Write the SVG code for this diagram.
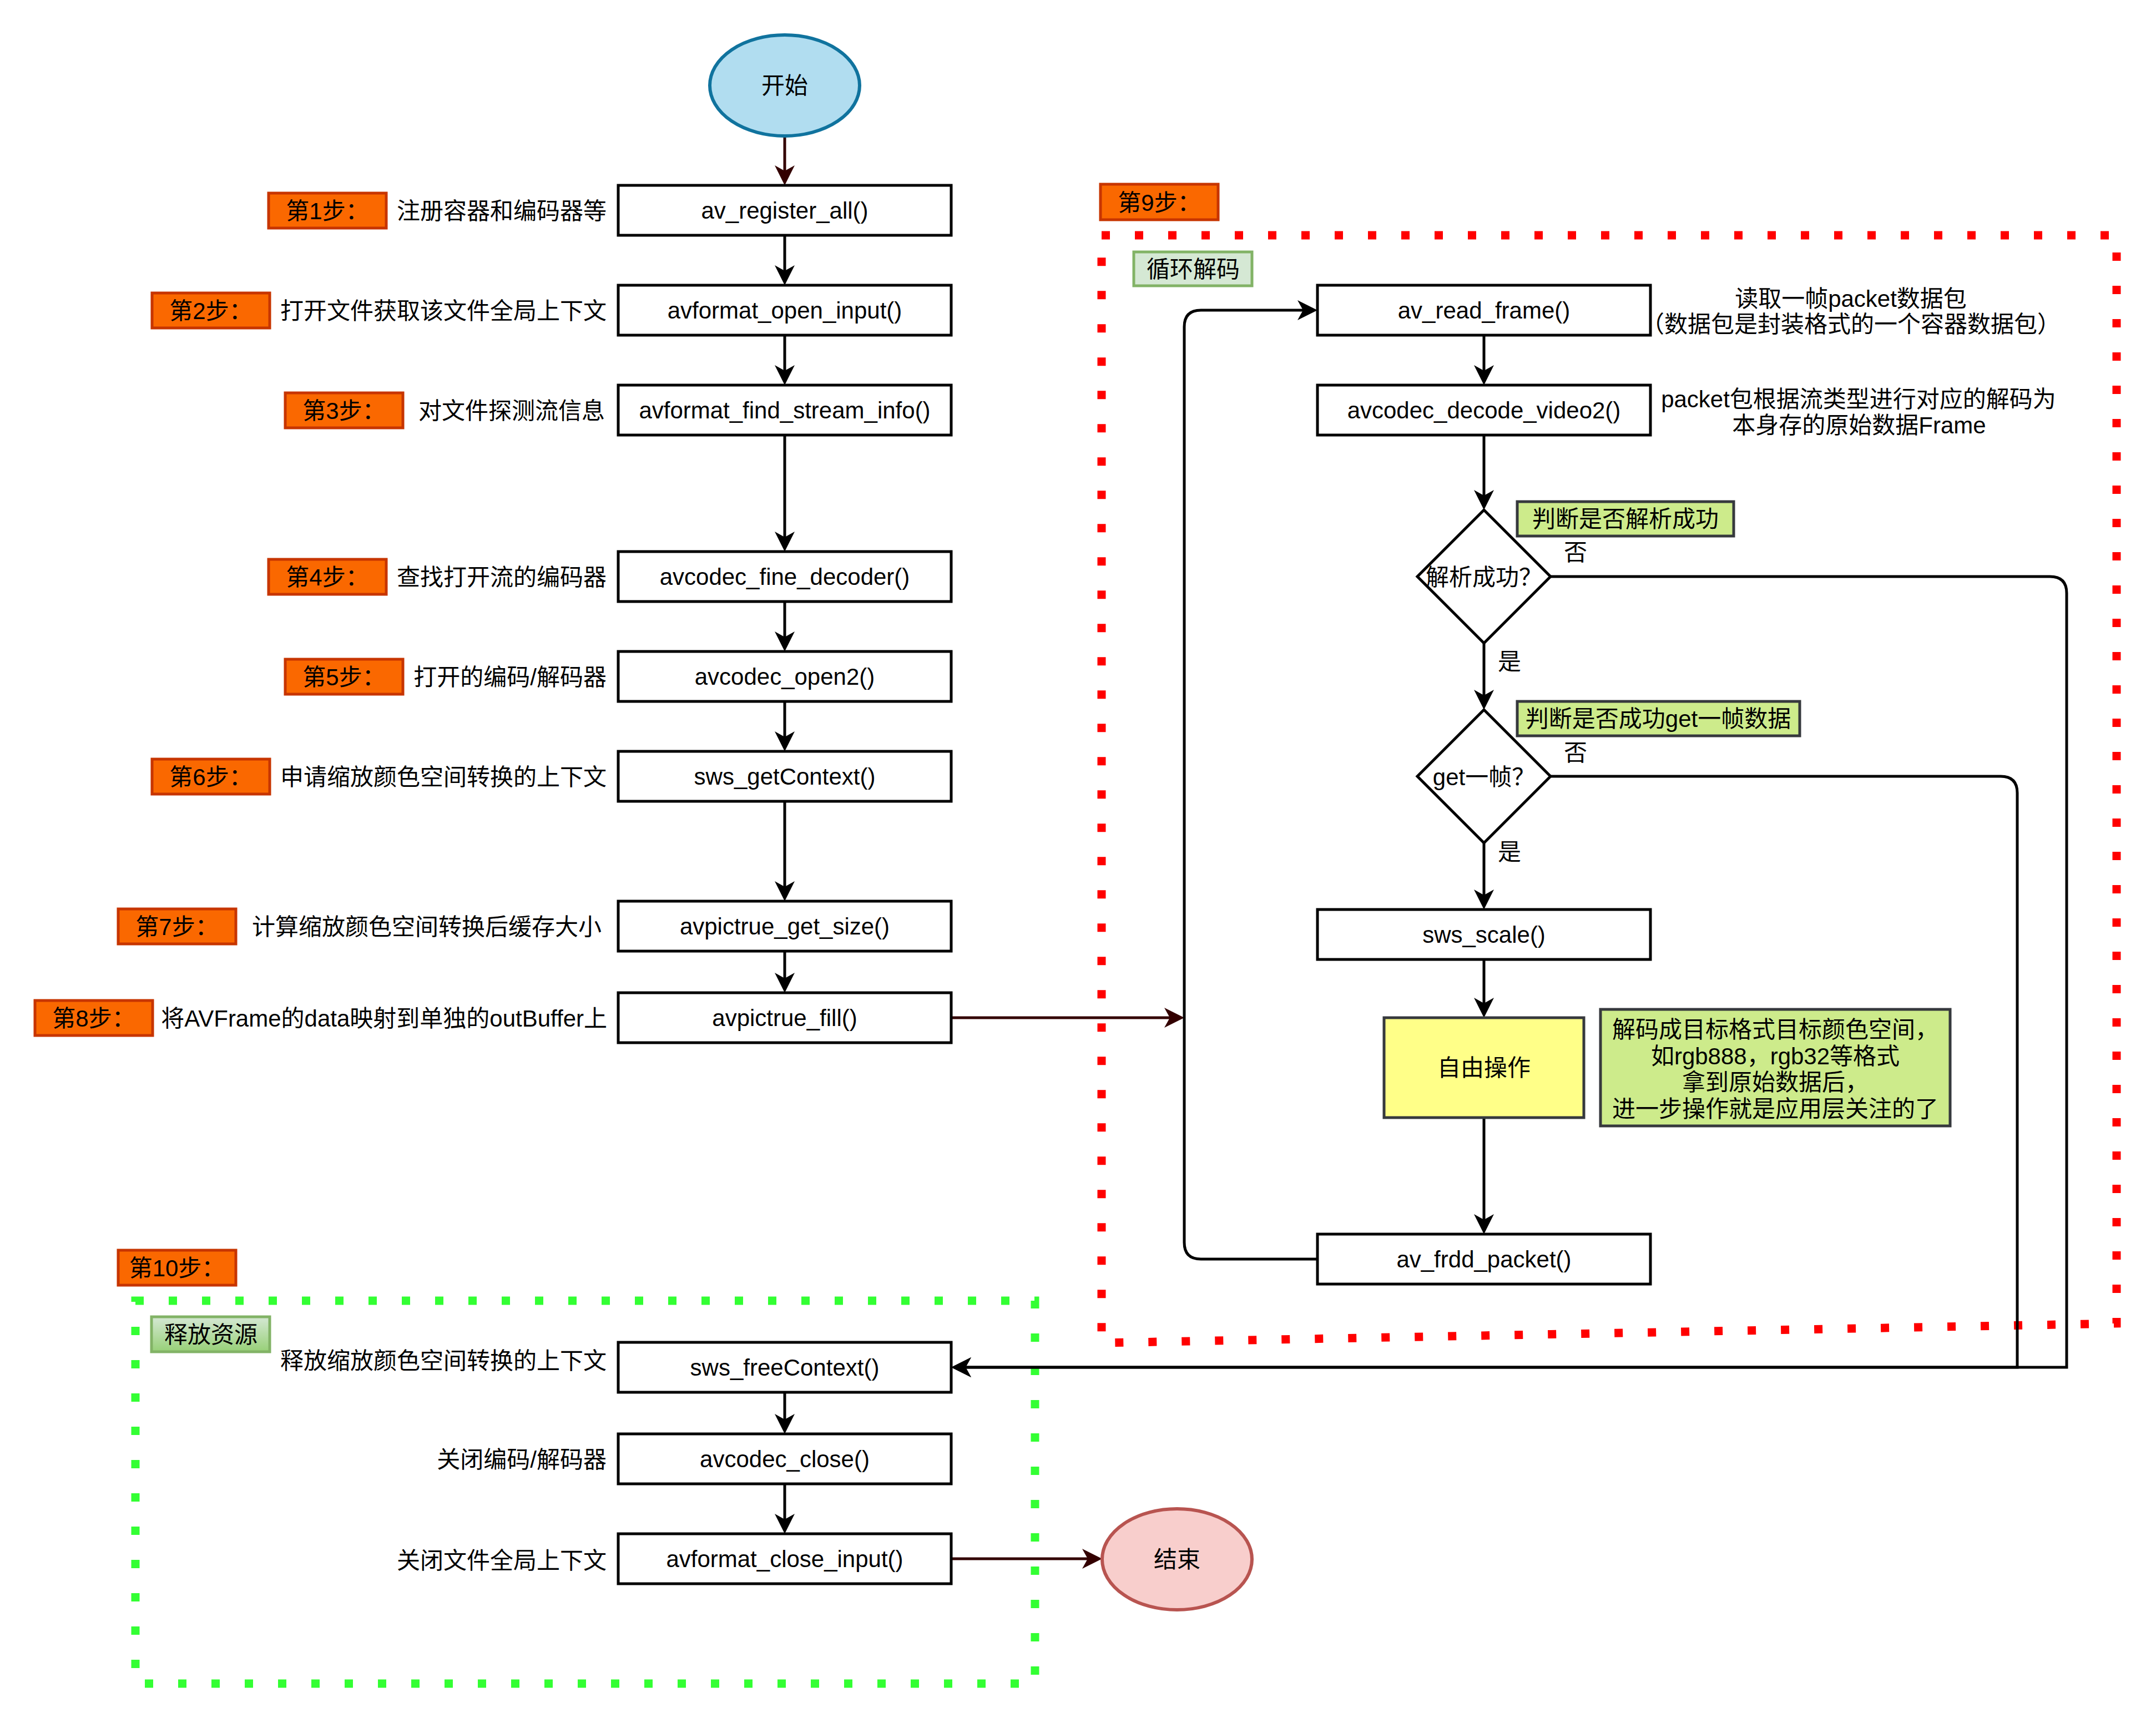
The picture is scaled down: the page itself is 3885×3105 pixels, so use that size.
<svg xmlns="http://www.w3.org/2000/svg" width="3885" height="3105" viewBox="0 0 3885 3105">
<style>
text{font-family:'Liberation Sans','Noto Sans CJK SC',sans-serif;font-size:42px;fill:#000}
.c{text-anchor:middle}
.e{text-anchor:end}
.box{fill:#fff;stroke:#000;stroke-width:5}
.step{fill:#fa6800;stroke:#c73500;stroke-width:5}
.lab{fill:#d5e8d4;stroke:#82b366;stroke-width:5}
.grn{fill:#cdeb8b;stroke:#36393d;stroke-width:5}
.ln{fill:none;stroke:#000;stroke-width:5}
.lr{fill:none;stroke:#330000;stroke-width:5}
</style>
<defs>
<marker id="ab" viewBox="-30 -20 40 40" refX="0" refY="0" markerWidth="40" markerHeight="40" markerUnits="userSpaceOnUse" orient="auto">
<path d="M8,0 L-28,-18 L-18,0 L-28,18 Z" fill="#000"/>
</marker>
<marker id="ar" viewBox="-30 -20 40 40" refX="0" refY="0" markerWidth="40" markerHeight="40" markerUnits="userSpaceOnUse" orient="auto">
<path d="M8,0 L-28,-18 L-18,0 L-28,18 Z" fill="#330000"/>
</marker>
<linearGradient id="gg" x1="0" y1="0" x2="0" y2="1">
<stop offset="0" stop-color="#d5e8d4"/>
<stop offset="1" stop-color="#97d077"/>
</linearGradient>
</defs>
<rect width="3885" height="3105" fill="#fff"/>

<g id="containers">
<polygon points="1985,424 3814,424 3814,2385 1985,2420" fill="none" stroke="#ff0000" stroke-width="15" stroke-dasharray="15 45"/>
<rect x="244" y="2344" width="1621" height="690" fill="none" stroke="#33ff33" stroke-width="15" stroke-dasharray="15 45"/>
</g>

<g id="connectors">
<path class="lr" d="M1414,245 V326" marker-end="url(#ar)"/>
<path class="ln" d="M1414,424 V506" marker-end="url(#ab)"/>
<path class="ln" d="M1414,604 V686" marker-end="url(#ab)"/>
<path class="ln" d="M1414,784 V986" marker-end="url(#ab)"/>
<path class="ln" d="M1414,1084 V1166" marker-end="url(#ab)"/>
<path class="ln" d="M1414,1264 V1346" marker-end="url(#ab)"/>
<path class="ln" d="M1414,1444 V1616" marker-end="url(#ab)"/>
<path class="ln" d="M1414,1714 V1781" marker-end="url(#ab)"/>
<path class="lr" d="M1714,1834 H2126" marker-end="url(#ar)"/>
<path class="ln" d="M2674,604 V686" marker-end="url(#ab)"/>
<path class="ln" d="M2674,784 V911" marker-end="url(#ab)"/>
<path class="ln" d="M2674,1159 V1271" marker-end="url(#ab)"/>
<path class="ln" d="M2674,1519 V1631" marker-end="url(#ab)"/>
<path class="ln" d="M2674,1729 V1826" marker-end="url(#ab)"/>
<path class="ln" d="M2674,2014 V2216" marker-end="url(#ab)"/>
<path class="ln" d="M2374,2269 H2164 Q2134,2269 2134,2239 V589 Q2134,559 2164,559 H2366" marker-end="url(#ab)"/>
<path class="ln" d="M2794,1399 H3605 Q3635,1399 3635,1429 V2464 H1722" marker-end="url(#ab)"/>
<path class="ln" d="M2794,1039 H3694 Q3724,1039 3724,1069 V2464 H1722" marker-end="url(#ab)"/>
<path class="ln" d="M1414,2509 V2576" marker-end="url(#ab)"/>
<path class="ln" d="M1414,2674 V2756" marker-end="url(#ab)"/>
<path class="lr" d="M1714,2809 H1978" marker-end="url(#ar)"/>
</g>

<g id="start">
<ellipse cx="1414" cy="154" rx="135" ry="91" fill="#b1ddf0" stroke="#10739e" stroke-width="6"/>
<text class="c" x="1414" y="169">开始</text>
</g>

<g id="step1"><rect class="step" x="484" y="348" width="212" height="63"/><text class="c" x="590" y="395">第1步：</text><text class="e" x="1093" y="395">注册容器和编码器等</text></g>
<g id="n1"><rect class="box" x="1114" y="334" width="600" height="90"/><text class="c" x="1414" y="394">av_register_all()</text></g>

<g id="step2"><rect class="step" x="274" y="528" width="212" height="63"/><text class="c" x="380" y="575">第2步：</text><text class="e" x="1093" y="575">打开文件获取该文件全局上下文</text></g>
<g id="n2"><rect class="box" x="1114" y="514" width="600" height="90"/><text class="c" x="1414" y="574">avformat_open_input()</text></g>

<g id="step3"><rect class="step" x="514" y="708" width="212" height="63"/><text class="c" x="620" y="755">第3步：</text><text class="e" x="1090" y="755">对文件探测流信息</text></g>
<g id="n3"><rect class="box" x="1114" y="694" width="600" height="90"/><text class="c" x="1414" y="754">avformat_find_stream_info()</text></g>

<g id="step4"><rect class="step" x="484" y="1008" width="212" height="63"/><text class="c" x="590" y="1055">第4步：</text><text class="e" x="1093" y="1055">查找打开流的编码器</text></g>
<g id="n4"><rect class="box" x="1114" y="994" width="600" height="90"/><text class="c" x="1414" y="1054">avcodec_fine_decoder()</text></g>

<g id="step5"><rect class="step" x="514" y="1188" width="212" height="63"/><text class="c" x="620" y="1235">第5步：</text><text class="e" x="1093" y="1235">打开的编码/解码器</text></g>
<g id="n5"><rect class="box" x="1114" y="1174" width="600" height="90"/><text class="c" x="1414" y="1234">avcodec_open2()</text></g>

<g id="step6"><rect class="step" x="274" y="1368" width="212" height="63"/><text class="c" x="380" y="1415">第6步：</text><text class="e" x="1093" y="1415">申请缩放颜色空间转换的上下文</text></g>
<g id="n6"><rect class="box" x="1114" y="1354" width="600" height="90"/><text class="c" x="1414" y="1414">sws_getContext()</text></g>

<g id="step7"><rect class="step" x="213" y="1638" width="212" height="63"/><text class="c" x="319" y="1685">第7步：</text><text class="e" x="1084" y="1685">计算缩放颜色空间转换后缓存大小</text></g>
<g id="n7"><rect class="box" x="1114" y="1624" width="600" height="90"/><text class="c" x="1414" y="1684">avpictrue_get_size()</text></g>

<g id="step8"><rect class="step" x="63" y="1803" width="212" height="63"/><text class="c" x="169" y="1850">第8步：</text><text class="e" x="1094" y="1850">将AVFrame的data映射到单独的outBuffer上</text></g>
<g id="n8"><rect class="box" x="1114" y="1789" width="600" height="90"/><text class="c" x="1414" y="1849">avpictrue_fill()</text></g>

<g id="step9"><rect class="step" x="1983" y="332" width="212" height="64"/><text class="c" x="2089" y="380">第9步：</text></g>
<g id="loopLabel"><rect class="lab" x="2043" y="454" width="213" height="61"/><text class="c" x="2150" y="500">循环解码</text></g>

<g id="r1"><rect class="box" x="2374" y="514" width="600" height="90"/><text class="c" x="2674" y="574">av_read_frame()</text></g>
<g id="note1"><text class="c" x="3335" y="553">读取一帧packet数据包</text><text class="c" x="3335" y="599">（数据包是封装格式的一个容器数据包）</text></g>
<g id="r2"><rect class="box" x="2374" y="694" width="600" height="90"/><text class="c" x="2674" y="754">avcodec_decode_video2()</text></g>
<g id="note2"><text class="c" x="3349" y="734">packet包根据流类型进行对应的解码为</text><text class="c" x="3350" y="781">本身存的原始数据Frame</text></g>

<g id="d1"><polygon class="box" points="2674,919 2794,1039 2674,1159 2554,1039"/><text class="c" x="2674" y="1055">解析成功？</text></g>
<g id="d1label"><rect class="grn" x="2734" y="904" width="390" height="62"/><text class="c" x="2929" y="950">判断是否解析成功</text></g>
<g id="d1no"><text class="c" x="2839" y="1010">否</text></g>
<g id="d1yes"><text class="c" x="2720" y="1207">是</text></g>

<g id="d2"><polygon class="box" points="2674,1279 2794,1399 2674,1519 2554,1399"/><text class="c" x="2674" y="1415">get一帧？</text></g>
<g id="d2label"><rect class="grn" x="2734" y="1264" width="509" height="62"/><text class="c" x="2988" y="1310">判断是否成功get一帧数据</text></g>
<g id="d2no"><text class="c" x="2839" y="1371">否</text></g>
<g id="d2yes"><text class="c" x="2720" y="1550">是</text></g>

<g id="r3"><rect class="box" x="2374" y="1639" width="600" height="90"/><text class="c" x="2674" y="1699">sws_scale()</text></g>
<g id="free"><rect x="2494" y="1834" width="360" height="180" fill="#ffff88" stroke="#36393d" stroke-width="5"/><text class="c" x="2674" y="1939">自由操作</text></g>
<g id="note3"><rect class="grn" x="2884" y="1819" width="630" height="210"/>
<text class="c" x="3199" y="1870">解码成目标格式目标颜色空间，</text>
<text class="c" x="3199" y="1918">如rgb888，rgb32等格式</text>
<text class="c" x="3199" y="1965">拿到原始数据后，</text>
<text class="c" x="3199" y="2013">进一步操作就是应用层关注的了</text></g>
<g id="r4"><rect class="box" x="2374" y="2224" width="600" height="90"/><text class="c" x="2674" y="2284">av_frdd_packet()</text></g>

<g id="step10"><rect class="step" x="213" y="2253" width="212" height="63"/><text class="c" x="319" y="2300">第10步：</text></g>
<g id="releaseLabel"><rect x="273" y="2373" width="213" height="63" fill="url(#gg)" stroke="#82b366" stroke-width="5"/><text class="c" x="380" y="2420">释放资源</text></g>

<g id="n9"><rect class="box" x="1114" y="2419" width="600" height="90"/><text class="c" x="1414" y="2479">sws_freeContext()</text><text class="e" x="1093" y="2467">释放缩放颜色空间转换的上下文</text></g>
<g id="n10"><rect class="box" x="1114" y="2584" width="600" height="90"/><text class="c" x="1414" y="2644">avcodec_close()</text><text class="e" x="1093" y="2645">关闭编码/解码器</text></g>
<g id="n11"><rect class="box" x="1114" y="2764" width="600" height="90"/><text class="c" x="1414" y="2824">avformat_close_input()</text><text class="e" x="1093" y="2827">关闭文件全局上下文</text></g>

<g id="end">
<ellipse cx="2121" cy="2810" rx="135" ry="91" fill="#f8cecc" stroke="#b85450" stroke-width="6"/>
<text class="c" x="2121" y="2825">结束</text>
</g>
</svg>
